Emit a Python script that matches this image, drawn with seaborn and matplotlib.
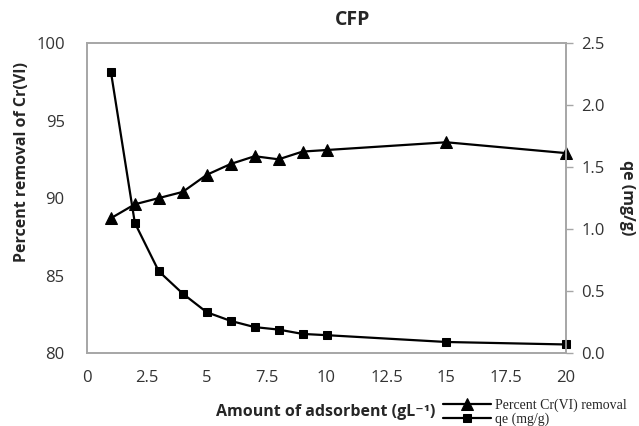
import pandas as pd
import matplotlib.pyplot as plt
import seaborn as sns

# Values
dose = [1, 2, 3, 4, 5, 6, 7, 8, 9, 10, 15, 20]
percent_removal = [88.7, 89.6, 90.0, 90.4, 91.5, 92.2, 92.7, 92.5, 93.0, 93.1, 93.6, 92.9]
qe = [2.27, 1.05, 0.66, 0.48, 0.33, 0.26, 0.21, 0.19, 0.155, 0.145, 0.09, 0.07]
x_ticks = [0, 2.5, 5, 7.5, 10, 12.5, 15, 17.5, 20]
x_tick_labels = ['0', '2.5', '5', '7.5', '10', '12.5', '15', '17.5', '20']
left_ticks = [80, 85, 90, 95, 100]
right_ticks = [0.0, 0.5, 1.0, 1.5, 2.0, 2.5]

data = pd.DataFrame({'Dose': dose, 'Percent': percent_removal, 'qe': qe})

sns.set_style('white')
plt.rcParams['font.family'] = ['Open Sans', 'DejaVu Sans']
grey = '#a6a6a6'

fig = plt.figure(figsize=(6.39, 4.26), dpi=100)
ax = fig.add_axes([0.136, 0.171, 0.750, 0.728])
ax2 = ax.twinx()

sns.lineplot(data=data, x='Dose', y='Percent', ax=ax, color='black', marker='^',
             markersize=8, linewidth=1.6, markeredgecolor='black', clip_on=False,
             label='Percent Cr(VI) removal', legend=False)
sns.lineplot(data=data, x='Dose', y='qe', ax=ax2, color='black', marker='s',
             markersize=6, linewidth=1.6, markeredgecolor='black', clip_on=False,
             label='qe (mg/g)', legend=False)

ax.set_xlim(0, 20)
ax.set_ylim(80, 100)
ax2.set_ylim(0, 2.5)
ax.set_xticks(x_ticks)
ax.set_xticklabels(x_tick_labels)
ax.set_yticks(left_ticks)
ax2.set_yticks(right_ticks)
ax2.set_yticklabels([f'{v:.1f}' for v in right_ticks])

for a in (ax, ax2):
    for s in a.spines.values():
        s.set_color(grey)
        s.set_linewidth(1.2)

ax.tick_params(axis='x', length=0, pad=12, labelsize=12, colors='#333333')
ax.tick_params(axis='y', length=0, pad=16, labelsize=12, colors='#333333')
ax2.tick_params(axis='y', length=5, width=1, color=grey, pad=6, labelsize=12,
                labelcolor='#333333', direction='out')

ax.set_xlabel('')
ax.set_ylabel('')
ax2.set_ylabel('')

fig.text(0.552, 0.952, 'CFP', ha='center', va='center', fontsize=14, fontweight='bold')
fig.text(0.034, 0.62, 'Percent removal of Cr(VI)', ha='center', va='center',
         rotation=90, fontsize=11.5, fontweight='bold')
fig.text(0.982, 0.535, 'qe (mg/g)', ha='center', va='center',
         rotation=270, fontsize=11.5, fontweight='bold')
fig.text(0.51, 0.014, 'Amount of adsorbent (gL⁻¹)', ha='center', va='bottom',
         fontsize=11.5, fontweight='bold')

handles = ax.get_lines()[:1] + ax2.get_lines()[:1]
fig.legend(handles, ['Percent Cr(VI) removal', 'qe (mg/g)'], loc='lower right',
           bbox_to_anchor=(1.0, -0.03), frameon=False, handlelength=3.4,
           handletextpad=0.3, labelspacing=0.05,
           prop={'family': 'Liberation Serif', 'size': 10})

fig.savefig('out.png', dpi=100)
